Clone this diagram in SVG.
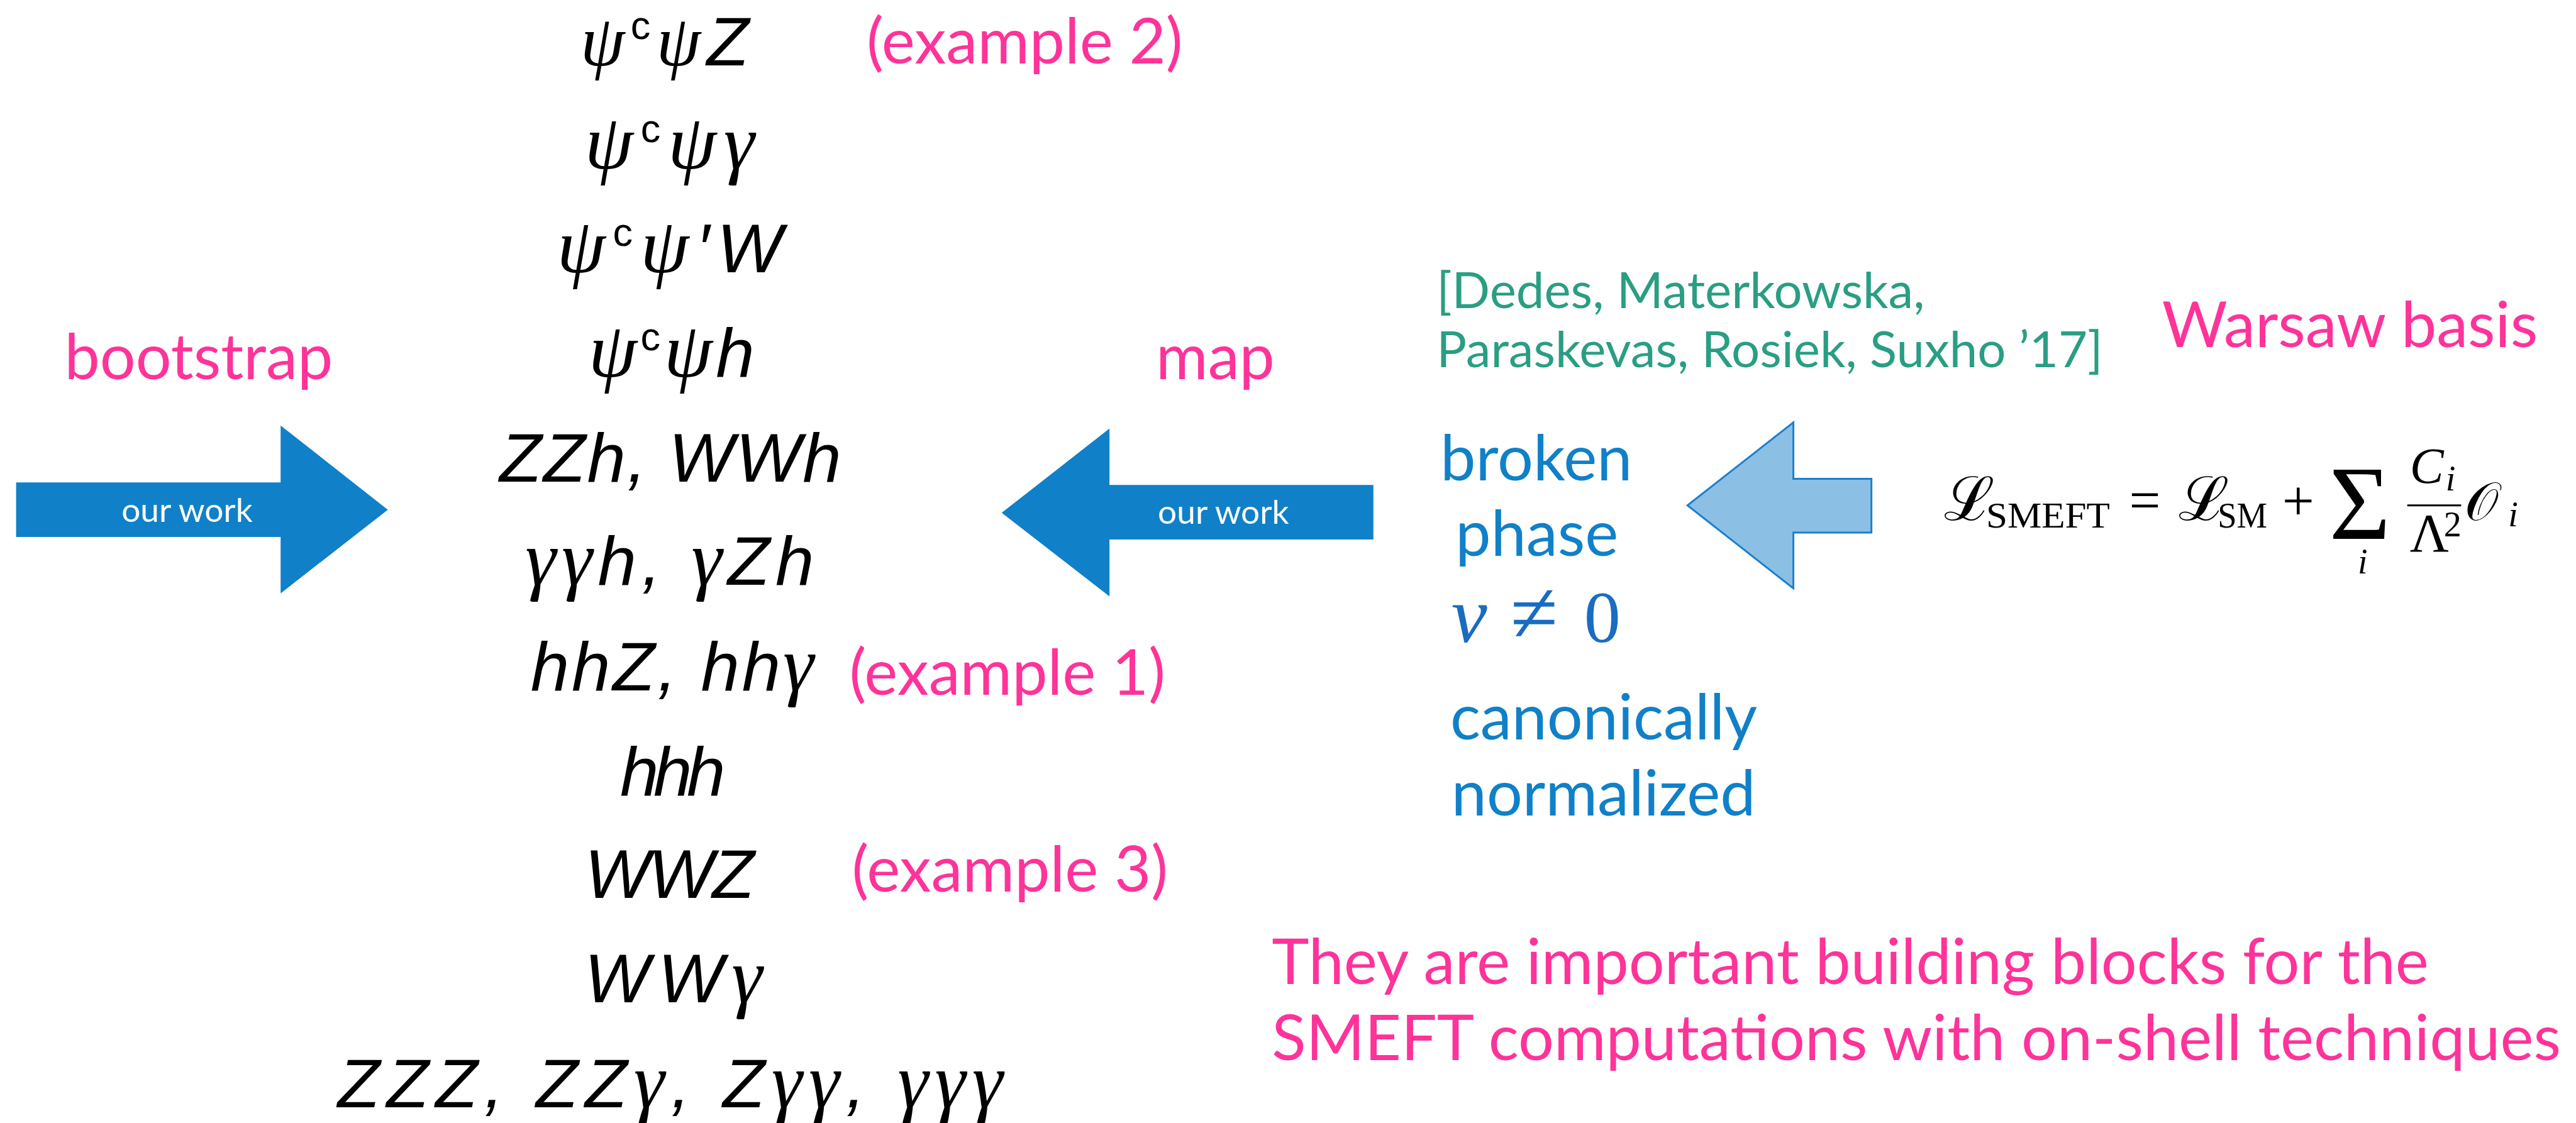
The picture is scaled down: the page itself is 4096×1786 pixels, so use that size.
<svg xmlns="http://www.w3.org/2000/svg" width="4096" height="1786" viewBox="0 0 4096 1786">
<style>
.lato{font-family:Lato,"Liberation Sans",sans-serif;font-size:102px}
.pink{fill:#ff3399}
.blue{fill:#1080c8}
.teal{fill:#2a9e82;font-size:81px}
.math{font-family:"Liberation Sans","DejaVu Sans",sans-serif;font-style:italic;font-size:112px;fill:#000;text-anchor:middle}
.g{font-family:"Liberation Serif","DejaVu Serif",serif;font-style:italic;font-size:126px}
.g1{font-family:"Liberation Serif","DejaVu Serif",serif;font-style:italic;font-size:115px}
.sup{font-style:normal;font-size:64px}
.tex{font-family:"Liberation Serif","DejaVu Serif",serif;fill:#000}
.it{font-style:italic}
.vb{fill:#1a6cc0}
.lbl{font-family:Lato,"Liberation Sans",sans-serif;font-size:54px;fill:#fff;text-anchor:middle}
</style>
<rect width="4096" height="1786" fill="#fff"/>
<g transform="scale(0.985)">
<g id="connectors">
  <g id="arrow-bootstrap">
    <path d="M26,779 H453 V687 L626,823 L453,958 V867 H26 Z" fill="#1080c8"/>
    <text class="lbl" x="302" y="843">our work</text>
  </g>
  <g id="arrow-map">
    <path d="M2217,783 H1791 V692 L1617,828 L1791,963 V871 H2217 Z" fill="#1080c8"/>
    <text class="lbl" x="1975" y="846">our work</text>
  </g>
  <g id="arrow-warsaw">
    <path d="M3021,773 H2895 V682 L2724,816 L2895,950 V860 H3021 Z" fill="#8bbfe4" stroke="#1a7fce" stroke-width="3"/>
  </g>
</g>
<g id="label-bootstrap"><text class="lato pink" x="104" y="612">bootstrap</text></g>
<g id="label-map"><text class="lato pink" x="1866" y="612">map</text></g>
<g id="amplitudes">
  <text class="math" x="1073" y="106" textLength="272" lengthAdjust="spacing"><tspan class="g1">ψ</tspan><tspan class="sup" dy="-43">c</tspan><tspan class="g1" dy="43">ψ</tspan>Z</text>
  <text class="math" x="1081" y="272" textLength="274" lengthAdjust="spacing"><tspan class="g">ψ</tspan><tspan class="sup" dy="-43">c</tspan><tspan class="g" dy="43">ψγ</tspan></text>
  <text class="math" x="1081" y="440" textLength="364" lengthAdjust="spacing"><tspan class="g">ψ</tspan><tspan class="sup" dy="-43">c</tspan><tspan class="g" dy="43">ψ</tspan>′W</text>
  <text class="math" x="1084" y="608" textLength="268" lengthAdjust="spacing"><tspan class="g">ψ</tspan><tspan class="sup" dy="-43">c</tspan><tspan class="g" dy="43">ψ</tspan>h</text>
  <text class="math" x="1082" y="778" textLength="552" lengthAdjust="spacing">ZZh,  WWh</text>
  <text class="math" x="1081" y="944" textLength="466" lengthAdjust="spacing"><tspan class="g">γγ</tspan>h, <tspan class="g">γ</tspan>Zh</text>
  <text class="math" x="1085" y="1115" textLength="457" lengthAdjust="spacing">hhZ, hh<tspan class="g">γ</tspan></text>
  <text class="math" x="1086" y="1284" textLength="170" lengthAdjust="spacing">hhh</text>
  <text class="math" x="1081" y="1450" textLength="274" lengthAdjust="spacing">WWZ</text>
  <text class="math" x="1087" y="1618" textLength="287" lengthAdjust="spacing">WW<tspan class="g">γ</tspan></text>
  <text class="math" x="1082" y="1788" textLength="1074" lengthAdjust="spacing">ZZZ, ZZ<tspan class="g">γ</tspan>, Z<tspan class="g">γγ</tspan>, <tspan class="g">γγγ</tspan></text>
</g>
<g id="examples">
  <text class="lato pink" x="1399" y="103">(example 2)</text>
  <text class="lato pink" x="1371" y="1122">(example 1)</text>
  <text class="lato pink" x="1375" y="1440">(example 3)</text>
</g>
<g id="citation">
  <text class="lato teal" x="2319" y="497">[Dedes, Materkowska,</text>
  <text class="lato teal" x="2319" y="593">Paraskevas, Rosiek, Suxho ’17]</text>
</g>
<g id="warsaw"><text class="lato pink" x="3490" y="560">Warsaw basis</text></g>
<g id="broken-phase">
  <text class="lato blue" x="2480" y="776" text-anchor="middle">broken</text>
  <text class="lato blue" x="2481" y="897" text-anchor="middle">phase</text>
  <text class="tex vb" y="1037"><tspan class="it" x="2343" font-size="130">v</tspan><tspan x="2438" font-size="140">≠</tspan><tspan x="2557" font-size="118">0</tspan></text>
  <text class="lato blue" x="2341" y="1194">canonically</text>
  <text class="lato blue" x="2343" y="1317">normalized</text>
</g>
<g id="lagrangian">
  <text class="tex"><tspan x="3138" y="840" font-size="98">ℒ</tspan><tspan x="3206" y="852" font-size="57" textLength="200" lengthAdjust="spacingAndGlyphs">SMEFT</tspan><tspan x="3437" y="838" font-size="90">=</tspan><tspan x="3517" y="840" font-size="98">ℒ</tspan><tspan x="3580" y="852" font-size="57" textLength="80" lengthAdjust="spacingAndGlyphs">SM</tspan><tspan x="3684" y="840" font-size="92">+</tspan><tspan x="3760" y="870" font-size="170">Σ</tspan><tspan class="it" x="3806" y="926" font-size="57">i</tspan><tspan class="it" x="3890" y="780" font-size="82">C</tspan><tspan class="it" x="3948" y="792" font-size="57">i</tspan><tspan x="3890" y="890" font-size="87">Λ</tspan><tspan x="3945" y="866" font-size="57">2</tspan><tspan x="3979" y="840" font-size="86">𝒪</tspan><tspan class="it" x="4049" y="850" font-size="57">i</tspan></text>
  <line x1="3886" y1="816" x2="3973" y2="816" stroke="#000" stroke-width="3"/>
</g>
<g id="summary">
  <text class="lato pink" x="2053" y="1589">They are important building blocks for the</text>
  <text class="lato pink" x="2053" y="1712">SMEFT computations with on-shell techniques</text>
</g>
</g>
</svg>
